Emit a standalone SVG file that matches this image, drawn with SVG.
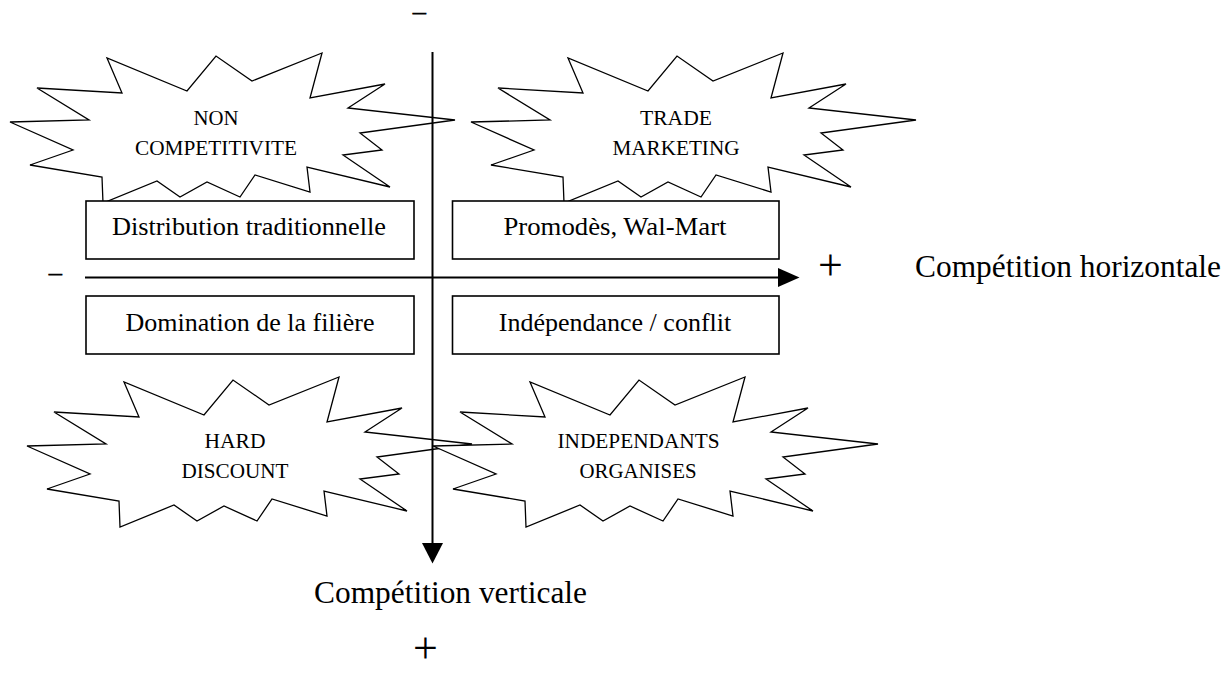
<svg xmlns="http://www.w3.org/2000/svg" xmlns:xlink="http://www.w3.org/1999/xlink" width="1224" height="674" viewBox="0 0 1224 674">
<style>
.burst{fill:#fff;stroke:#000;stroke-width:1.3;stroke-linejoin:miter}
.box{fill:#fff;stroke:#000;stroke-width:1.6}
.t{font-family:"Liberation Serif","Times New Roman",serif;fill:#000}
.bl{font-size:21px;text-anchor:middle}
.bx{font-size:26px;text-anchor:middle}
.ax{font-size:31px}
.sg{font-size:44px}
.dash{font-size:20px;stroke:#000;stroke-width:0.8}
.axis{stroke:#000;stroke-width:2;fill:none}
</style>
<defs>
<polygon id="burst" class="burst" points="107,58 122,93 37,88 89,120 10,122 73,150 30,165 102,177 103,203 157,181 180,197 207,182 240,197 255,175 310,192 307,167 390,187 343,155 382,150 360,133 455,120 348,108 385,84 310,98 322,53 252,81 216,56 187,91"/>
</defs>
<rect width="1224" height="674" fill="#fff"/>

<g id="burst-non-competitivite">
<use xlink:href="#burst"/>
<text class="t bl" x="216" y="125" textLength="45" lengthAdjust="spacingAndGlyphs">NON</text>
<text class="t bl" x="216" y="155" textLength="162" lengthAdjust="spacingAndGlyphs">COMPETITIVITE</text>
</g>
<g id="burst-trade-marketing">
<use xlink:href="#burst" transform="translate(461,0)"/>
<text class="t bl" x="676" y="125" textLength="72" lengthAdjust="spacingAndGlyphs">TRADE</text>
<text class="t bl" x="676" y="155" textLength="127" lengthAdjust="spacingAndGlyphs">MARKETING</text>
</g>
<g id="burst-hard-discount">
<use xlink:href="#burst" transform="translate(17,324)"/>
<text class="t bl" x="235" y="448" textLength="61" lengthAdjust="spacingAndGlyphs">HARD</text>
<text class="t bl" x="235" y="478" textLength="107" lengthAdjust="spacingAndGlyphs">DISCOUNT</text>
</g>
<g id="burst-independants-organises">
<use xlink:href="#burst" transform="translate(423,324)"/>
<text class="t bl" x="638.5" y="448" textLength="162" lengthAdjust="spacingAndGlyphs">INDEPENDANTS</text>
<text class="t bl" x="638" y="478" textLength="117" lengthAdjust="spacingAndGlyphs">ORGANISES</text>
</g>

<g id="box-distribution-traditionnelle">
<rect class="box" x="86" y="201" width="328" height="58"/>
<text class="t bx" x="249" y="235" textLength="274" lengthAdjust="spacingAndGlyphs">Distribution traditionnelle</text>
</g>
<g id="box-promodes">
<rect class="box" x="452.5" y="201" width="326.5" height="58"/>
<text class="t bx" x="615" y="235" textLength="223" lengthAdjust="spacingAndGlyphs">Promodès, Wal-Mart</text>
</g>
<g id="box-domination">
<rect class="box" x="86" y="296" width="328" height="58"/>
<text class="t bx" x="250" y="331">Domination de la filière</text>
</g>
<g id="box-independance">
<rect class="box" x="452.5" y="296" width="326.5" height="58"/>
<text class="t bx" x="615" y="331">Indépendance / conflit</text>
</g>

<g id="connectors">
<line class="axis" x1="85" y1="277.5" x2="780" y2="277.5"/>
<polygon points="778,268 799.5,277.5 778,287" fill="#000"/>
<line class="axis" x1="432.5" y1="52" x2="432.5" y2="545"/>
<polygon points="422,543 443,543 432.5,563.5" fill="#000"/>
</g>

<g id="axis-labels">
<text class="t dash" x="413" y="18.5" textLength="12.7" lengthAdjust="spacingAndGlyphs">–</text>
<text class="t dash" x="49" y="280" textLength="12.7" lengthAdjust="spacingAndGlyphs">–</text>
<text class="t sg" x="818" y="280">+</text>
<text class="t sg" x="413" y="663">+</text>
<text class="t ax" x="915" y="277" textLength="306" lengthAdjust="spacingAndGlyphs">Compétition horizontale</text>
<text class="t ax" x="314" y="603" textLength="273" lengthAdjust="spacingAndGlyphs">Compétition verticale</text>
</g>
</svg>
